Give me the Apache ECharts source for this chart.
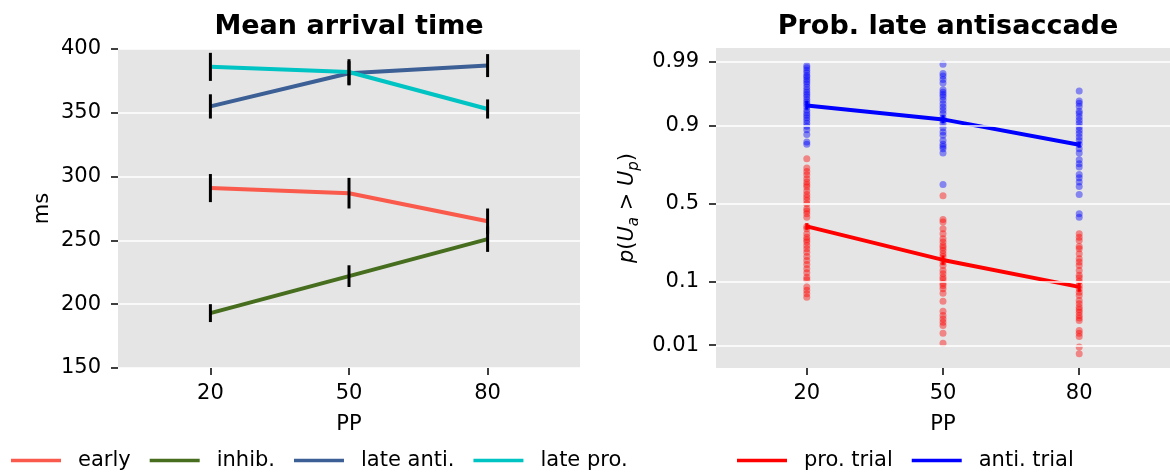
<!DOCTYPE html>
<html>
<head>
<meta charset="utf-8">
<script src="https://cdn.jsdelivr.net/npm/echarts@6/dist/echarts.min.js"></script>
<style>
html, body { margin: 0; padding: 0; background: #fff; }
#chart { width: 1170px; height: 474px; }
</style>
</head>
<body>
<div id="chart"></div>
<script>
// Prosaccade probability (PP, %) conditions
const pp = [20, 50, 80];

// Mean arrival times (ms) and error half-widths per unit
const early = [291, 287, 265];
const earlyErr = [11, 12, 10];
const inhib = [193, 222, 251];
const inhibErr = [7, 8.5, 10];
const lateAnti = [355, 381, 387];
const lateAntiErr = [9.5, 9.5, 9];
const latePro = [386, 382, 353];
const lateProErr = [11, 10, 7.5];

// Probability of a late antisaccade, group means and error half-widths
const proTrial = [0.353, 0.177, 0.0855];
const proTrialErr = [0.02, 0.02, 0.012];
const antiTrial = [0.946, 0.916, 0.832];
const antiTrialErr = [0.008, 0.01, 0.012];

// Per-subject probabilities, pro trials
const proSubj20 = [0.768, 0.719, 0.700, 0.681, 0.657, 0.637, 0.620, 0.606, 0.580, 0.559, 0.541, 0.520, 0.498, 0.465, 0.450, 0.433, 0.411, 0.353, 0.339, 0.309, 0.290, 0.275, 0.263, 0.245, 0.228, 0.212, 0.192, 0.175, 0.158, 0.142, 0.128, 0.113, 0.105, 0.085, 0.077, 0.069, 0.062];
const proSubj50 = [0.550, 0.396, 0.380, 0.339, 0.309, 0.281, 0.263, 0.245, 0.233, 0.220, 0.204, 0.192, 0.168, 0.154, 0.136, 0.124, 0.113, 0.105, 0.0954, 0.0891, 0.0806, 0.0705, 0.0544, 0.0385, 0.0330, 0.0291, 0.0257, 0.0226, 0.0166, 0.0109];
const proSubj80 = [0.309, 0.290, 0.272, 0.240, 0.228, 0.204, 0.182, 0.168, 0.154, 0.136, 0.119, 0.111, 0.101, 0.0891, 0.0806, 0.0727, 0.0654, 0.0556, 0.0497, 0.0444, 0.0404, 0.0372, 0.0330, 0.0302, 0.0273, 0.0185, 0.0166, 0.0145, 0.0092, 0.0068];

// Per-subject probabilities, anti trials
const antiSubj20 = [0.988, 0.987, 0.9855, 0.984, 0.982, 0.981, 0.979, 0.977, 0.975, 0.972, 0.969, 0.966, 0.963, 0.960, 0.956, 0.952, 0.948, 0.943, 0.937, 0.931, 0.926, 0.920, 0.914, 0.906, 0.897, 0.887, 0.871, 0.843, 0.834];
const antiSubj50 = [0.9888, 0.9834, 0.9817, 0.979, 0.976, 0.969, 0.966, 0.963, 0.960, 0.955, 0.949, 0.943, 0.937, 0.930, 0.920, 0.914, 0.905, 0.893, 0.879, 0.868, 0.849, 0.834, 0.825, 0.815, 0.796, 0.622];
const antiSubj80 = [0.9675, 0.9535, 0.950, 0.944, 0.935, 0.930, 0.922, 0.914, 0.905, 0.895, 0.885, 0.874, 0.862, 0.849, 0.834, 0.815, 0.796, 0.763, 0.743, 0.725, 0.683, 0.663, 0.637, 0.610, 0.559, 0.433, 0.411];

// Tick values on the probit-scaled axis
const probTicks = [0.01, 0.1, 0.5, 0.9, 0.99];
const probTickLabels = ['0.01', '0.1', '0.5', '0.9', '0.99'];

// Inverse standard normal CDF (Acklam's rational approximation)
function probit(p) {
  const a = [-3.969683028665376e+01, 2.209460984245205e+02, -2.759285104469687e+02, 1.383577518672690e+02, -3.066479806614716e+01, 2.506628277459239e+00];
  const b = [-5.447609879822406e+01, 1.615858368580409e+02, -1.556989798598866e+02, 6.680131188771972e+01, -1.328068155288572e+01];
  const c = [-7.784894002430293e-03, -3.223964580411365e-01, -2.400758277161838e+00, -2.549732539343734e+00, 4.374664141464968e+00, 2.938163982698783e+00];
  const d = [7.784695709041462e-03, 3.224671290700398e-01, 2.445134137142996e+00, 3.754408661907416e+00];
  const pl = 0.02425, ph = 1 - pl;
  let q, r;
  if (p < pl) {
    q = Math.sqrt(-2 * Math.log(p));
    return (((((c[0] * q + c[1]) * q + c[2]) * q + c[3]) * q + c[4]) * q + c[5]) / ((((d[0] * q + d[1]) * q + d[2]) * q + d[3]) * q + 1);
  }
  if (p <= ph) {
    q = p - 0.5; r = q * q;
    return (((((a[0] * r + a[1]) * r + a[2]) * r + a[3]) * r + a[4]) * r + a[5]) * q / (((((b[0] * r + b[1]) * r + b[2]) * r + b[3]) * r + b[4]) * r + 1);
  }
  q = Math.sqrt(-2 * Math.log(1 - p));
  return -(((((c[0] * q + c[1]) * q + c[2]) * q + c[3]) * q + c[4]) * q + c[5]) / ((((d[0] * q + d[1]) * q + d[2]) * q + d[3]) * q + 1);
}

const FONT = 'DejaVu Sans';
const colors = {
  early: '#FA5A4B',
  inhib: '#466E1E',
  lateAnti: '#3C5F96',
  latePro: '#00C3C3',
  pro: '#FF0000',
  anti: '#0000FF'
};
const LINE_W = 4;

function lineSeries(name, ys, color, axis) {
  return {
    name: name, type: 'line', xAxisIndex: axis, yAxisIndex: axis,
    data: pp.map((x, i) => [x, ys[i]]),
    symbol: 'none', lineStyle: { color: color, width: LINE_W }, itemStyle: { color: color },
    z: 3, silent: true
  };
}

function errorSeries(lows, highs, color, width, axis, z) {
  return {
    type: 'custom', xAxisIndex: axis, yAxisIndex: axis, z: z, silent: true,
    data: pp.map((x, i) => [x, lows[i], highs[i]]),
    encode: { x: 0, y: [1, 2] },
    renderItem: function (params, api) {
      const p1 = api.coord([api.value(0), api.value(1)]);
      const p2 = api.coord([api.value(0), api.value(2)]);
      return {
        type: 'line',
        shape: { x1: p1[0], y1: p1[1], x2: p2[0], y2: p2[1] },
        style: { stroke: color, lineWidth: width }
      };
    }
  };
}

function msErr(means, errs) {
  return errorSeries(means.map((m, i) => m - errs[i]), means.map((m, i) => m + errs[i]), '#000', 3, 0, 5);
}

function probErr(means, errs, color) {
  return errorSeries(means.map((m, i) => probit(m - errs[i])), means.map((m, i) => probit(m + errs[i])), color, 3, 1, 4);
}

function dots(name, groups, color) {
  const data = [];
  groups.forEach((g, k) => g.forEach(p => data.push([pp[k], probit(p)])));
  return {
    name: name + ' subjects', type: 'scatter', xAxisIndex: 1, yAxisIndex: 1,
    data: data, symbolSize: 7, silent: true, z: 2,
    itemStyle: { color: color, opacity: 0.42 }
  };
}

const tickStyle = { show: true, length: 7, lineStyle: { color: '#000', width: 1.5 } };
const labelStyle = { color: '#000', fontFamily: FONT, fontSize: 21 };
const nameStyle = { color: '#000', fontFamily: FONT, fontSize: 21 };

function ppAxis(idx) {
  return {
    type: 'value', gridIndex: idx, min: 0, max: 100,
    name: 'PP', nameLocation: 'middle', nameGap: 46, nameTextStyle: nameStyle,
    axisLine: { show: false, onZero: false },
    axisTick: Object.assign({ customValues: pp }, tickStyle),
    axisLabel: Object.assign({ customValues: pp, margin: 15 }, labelStyle),
    splitLine: { show: false }
  };
}

const chart = echarts.init(document.getElementById('chart'), null, { renderer: 'canvas' });

chart.setOption({
  animation: false,
  backgroundColor: '#ffffff',
  title: [
    { text: 'Mean arrival time', left: 349, top: 13, textAlign: 'center', padding: 0,
      textStyle: { fontFamily: FONT, fontSize: 27, fontWeight: 'bold', color: '#000' } },
    { text: 'Prob. late antisaccade', left: 948, top: 13, textAlign: 'center', padding: 0,
      textStyle: { fontFamily: FONT, fontSize: 27, fontWeight: 'bold', color: '#000' } }
  ],
  legend: [
    { data: ['early', 'inhib.', 'late anti.', 'late pro.'], left: 11, top: 450, padding: 0,
      icon: 'rect', itemWidth: 50, itemHeight: 3.5, itemGap: 19, selectedMode: false,
      textStyle: { fontFamily: FONT, fontSize: 21, color: '#000', padding: [0, 0, 0, 12] } },
    { data: ['pro. trial', 'anti. trial'], left: 737, top: 450, padding: 0,
      icon: 'rect', itemWidth: 50, itemHeight: 3.5, itemGap: 19, selectedMode: false,
      textStyle: { fontFamily: FONT, fontSize: 21, color: '#000', padding: [0, 0, 0, 12] } }
  ],
  grid: [
    { left: 118, top: 49, width: 462, height: 319, show: true, backgroundColor: '#E5E5E5', borderWidth: 0 },
    { left: 716, top: 48, width: 464, height: 320, show: true, backgroundColor: '#E5E5E5', borderWidth: 0 }
  ],
  xAxis: [ppAxis(0), ppAxis(1)],
  yAxis: [
    {
      type: 'value', gridIndex: 0, min: 150, max: 400, interval: 50,
      name: 'ms', nameLocation: 'middle', nameGap: 65, nameTextStyle: nameStyle,
      axisLine: { show: false, onZero: false }, axisTick: tickStyle,
      axisLabel: Object.assign({ margin: 17 }, labelStyle),
      splitLine: { show: true, lineStyle: { color: '#ffffff', width: 1.5 } }
    },
    {
      type: 'value', gridIndex: 1, min: -2.70, max: 2.55,
      name: '{i|p}({i|U}{s|a} > {i|U}{s|p})', nameLocation: 'middle', nameGap: 74,
      nameTextStyle: {
        color: '#000', fontFamily: FONT, fontSize: 21, lineHeight: 28,
        rich: {
          i: { fontFamily: FONT, fontSize: 21, fontStyle: 'italic', color: '#000' },
          s: { fontFamily: FONT, fontSize: 15, fontStyle: 'italic', color: '#000', verticalAlign: 'bottom', lineHeight: 15 }
        }
      },
      axisLine: { show: false, onZero: false },
      axisTick: Object.assign({ customValues: probTicks.map(probit) }, tickStyle),
      axisLabel: Object.assign({
        customValues: probTicks.map(probit), margin: 17,
        formatter: function (v) {
          let best = 0;
          probTicks.forEach((p, i) => { if (Math.abs(probit(p) - v) < Math.abs(probit(probTicks[best]) - v)) best = i; });
          return probTickLabels[best];
        }
      }, labelStyle),
      splitLine: { show: false }
    }
  ],
  series: [
    lineSeries('early', early, colors.early, 0),
    lineSeries('inhib.', inhib, colors.inhib, 0),
    lineSeries('late anti.', lateAnti, colors.lateAnti, 0),
    lineSeries('late pro.', latePro, colors.latePro, 0),
    msErr(early, earlyErr),
    msErr(inhib, inhibErr),
    msErr(lateAnti, lateAntiErr),
    msErr(latePro, lateProErr),
    // horizontal grid on the probit axis
    {
      type: 'line', xAxisIndex: 1, yAxisIndex: 1, data: [], z: 1, silent: true,
      markLine: {
        silent: true, symbol: 'none', label: { show: false },
        lineStyle: { color: '#ffffff', width: 1.5, type: 'solid' },
        data: probTicks.map(p => ({ yAxis: probit(p) }))
      }
    },
    dots('pro. trial', [proSubj20, proSubj50, proSubj80], colors.pro),
    dots('anti. trial', [antiSubj20, antiSubj50, antiSubj80], colors.anti),
    {
      name: 'pro. trial', type: 'line', xAxisIndex: 1, yAxisIndex: 1, silent: true, z: 3,
      data: pp.map((x, i) => [x, probit(proTrial[i])]), symbol: 'none',
      lineStyle: { color: colors.pro, width: LINE_W }, itemStyle: { color: colors.pro }
    },
    {
      name: 'anti. trial', type: 'line', xAxisIndex: 1, yAxisIndex: 1, silent: true, z: 3,
      data: pp.map((x, i) => [x, probit(antiTrial[i])]), symbol: 'none',
      lineStyle: { color: colors.anti, width: LINE_W }, itemStyle: { color: colors.anti }
    },
    probErr(proTrial, proTrialErr, colors.pro),
    probErr(antiTrial, antiTrialErr, colors.anti)
  ]
});
</script>
</body>
</html>
